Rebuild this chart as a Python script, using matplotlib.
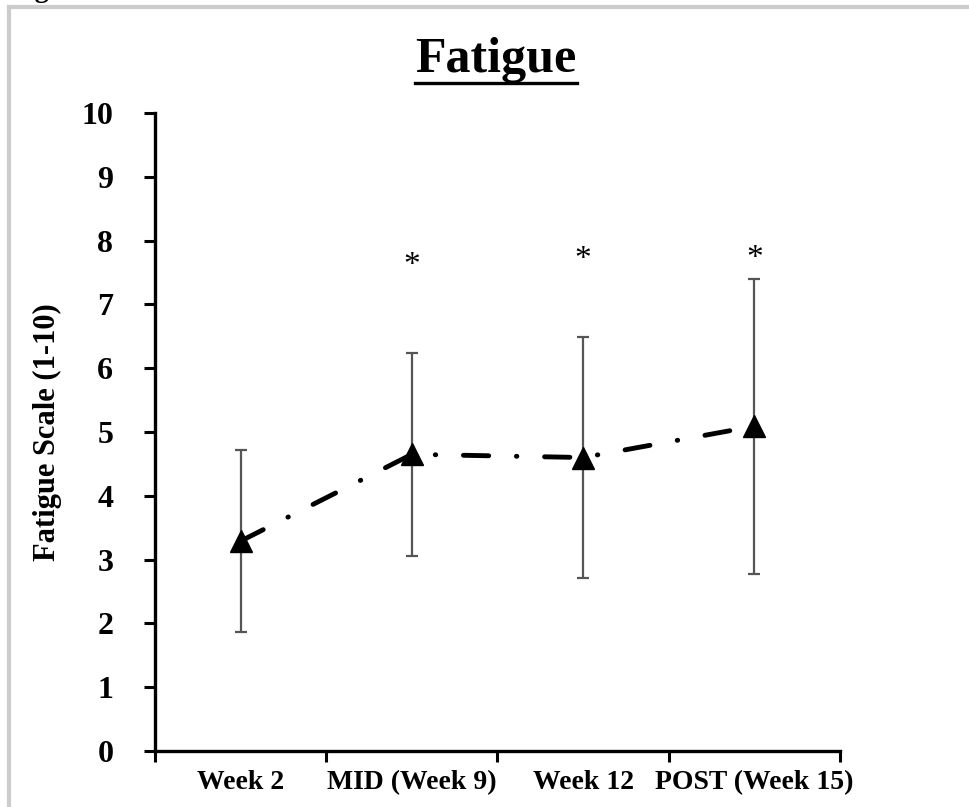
import matplotlib
matplotlib.use('Agg')
import matplotlib.pyplot as plt
from matplotlib.lines import Line2D

# ---- data ----
categories = ['Week 2', 'MID (Week 9)', 'Week 12', 'POST (Week 15)']
means = [3.29, 4.65, 4.60, 5.09]
sds = [1.43, 1.59, 1.89, 2.31]
sig_marks = ['', '*', '*', '*']
sig_y = [0, 7.60, 7.70, 7.72]
yticks = list(range(0, 11))
title = 'Fatigue'
ylabel = 'Fatigue Scale (1-10)'

SERIF = ['Liberation Serif', 'DejaVu Serif']
plt.rcParams['font.family'] = SERIF

fig = plt.figure(figsize=(9.7, 8.07), dpi=100)
ax = fig.add_axes([155 / 970, 56 / 807, (840 - 155) / 970, (751 - 113) / 807])

x = list(range(len(categories)))

ax.errorbar(x, means, yerr=sds, fmt='none', ecolor='#555555', elinewidth=1.6,
            capsize=4.3, capthick=1.6, zorder=2)
ax.plot(x, means, color='black', lw=3.5, linestyle=(0, (5.2, 5.7, 0.1, 5.7)),
        dash_capstyle='round', marker='^', markersize=16, markerfacecolor='black',
        markeredgecolor='black', zorder=3)

for xi, m, yy in zip(x, sig_marks, sig_y):
    if m:
        ax.text(xi, yy, m, ha='center', va='center', fontsize=24, family=SERIF)

ax.set_xlim(-0.5, len(categories) - 0.5)
ax.set_ylim(0, 10)
ax.set_yticks(yticks)
ax.set_yticklabels([str(v) for v in yticks], fontsize=23, fontweight='bold')

# category ticks between categories, labels centred
ax.set_xticks([i - 0.5 for i in range(len(categories) + 1)])
ax.set_xticklabels([])
ax.set_xticks(x, minor=True)
ax.set_xticklabels(categories, minor=True, fontsize=20, fontweight='bold')
ax.tick_params(axis='x', which='minor', length=0, pad=14)
ax.tick_params(axis='x', which='major', length=8, width=2.2, direction='out')
ax.tick_params(axis='y', length=8, width=2.2, direction='out', pad=22)

for s in ['top', 'right']:
    ax.spines[s].set_visible(False)
for s in ['left', 'bottom']:
    ax.spines[s].set_linewidth(2.4)

ax.set_ylabel(ylabel, fontsize=22, fontweight='bold', labelpad=14)

# underlined title
fig.text(496 / 970, 1 - 60 / 807, title, ha='center', va='center',
         fontsize=36, fontweight='bold')
fig.add_artist(Line2D([415 / 970, 577 / 970], [1 - 83 / 807, 1 - 83 / 807],
                      color='black', lw=2.4, transform=fig.transFigure))

# partial frame (top and left), and clipped caption text above
fig.add_artist(Line2D([9 / 970, 1.0], [1 - 7 / 807, 1 - 7 / 807],
                      color='#cccccc', lw=3, transform=fig.transFigure))
fig.add_artist(Line2D([9 / 970, 9 / 970], [0, 1 - 7 / 807],
                      color='#cccccc', lw=3, transform=fig.transFigure))
fig.text(10 / 970, 1 + 3 / 807, 'Figure 2', ha='left', va='baseline',
         fontsize=20, fontweight='bold')

fig.savefig('out.png', dpi=100)
